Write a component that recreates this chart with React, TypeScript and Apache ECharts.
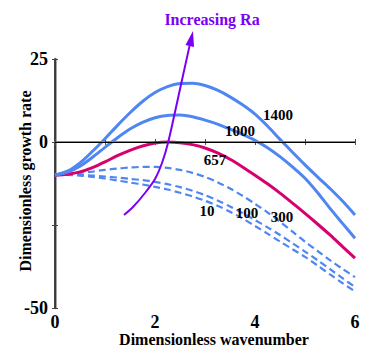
import React, { useEffect, useRef } from "react";
import * as echarts from "echarts";

const xs = [0, 0.25, 0.5, 0.75, 1, 1.25, 1.5, 1.75, 2, 2.25, 2.5, 2.75, 3, 3.25, 3.5, 3.75, 4, 4.25, 4.5, 4.75, 5, 5.25, 5.5, 5.75, 6];
const ra1400 = [-10, -8.8, -6.3, -2.8, 1.0, 5, 8.8, 12.2, 14.9, 16.7, 17.6, 17.7, 17.0, 15.6, 13.6, 11.2, 8.4, 4.8, 0.8, -3.1, -6.9, -10.5, -14, -17.8, -22];
const ra1000 = [-10, -9.1, -7.3, -4.6, -1.6, 1.3, 3.9, 5.9, 7.3, 8.0, 8.1, 7.6, 6.6, 5.4, 3.9, 2.3, 0.5, -1.7, -4.4, -7.5, -10.9, -15.2, -20, -24.5, -29];
const ra657 = [-10, -9.7, -9, -7.7, -6, -4.1, -2.5, -1.2, -0.3, 0, -0.2, -0.8, -1.8, -3.3, -5.2, -7.5, -10, -12.6, -15.4, -18.4, -21.5, -24.7, -28, -31.5, -35];
const ra300 = [-9.8, -9.6, -9.3, -8.9, -8.4, -8, -7.7, -7.5, -7.5, -7.8, -8.4, -9.3, -10.5, -12.1, -14, -16.2, -18.6, -21.2, -24, -27, -30, -32.8, -35.6, -38.2, -40.7];
const ra100 = [-9.8, -9.8, -9.9, -10.1, -10.4, -10.7, -11.1, -11.5, -12, -12.7, -13.6, -14.7, -16, -17.6, -19.4, -21.4, -23.5, -25.7, -28, -30.5, -33, -35.6, -38.3, -41, -43.7];
const ra10 = [-9.8, -9.9, -10.1, -10.5, -11, -11.6, -12.2, -12.8, -13.5, -14.3, -15.3, -16.4, -17.7, -19.2, -21, -23, -25.3, -27.6, -30, -32.3, -34.6, -37.2, -39.9, -42.5, -45];

const xTickLabels = ["0", "2", "4", "6"];
const yTickLabels = ["25", "0", "-50"];

const BLUE = "#4f86f2";
const MAGENTA = "#d6006f";
const PURPLE = "#7a00f5";
const FONT = "'Liberation Serif', 'DejaVu Serif', serif";

const pairs = (ys: number[]) => xs.map((x, i) => [x, ys[i]]);

export default function App() {
  const ref = useRef<HTMLDivElement>(null);
  useEffect(() => {
    if (!ref.current) return;
    const chart = echarts.init(ref.current, undefined, { renderer: "svg" });
    const solid = (name: string, ys: number[], color: string) => ({
      name,
      type: "line",
      data: pairs(ys),
      smooth: 0.3,
      showSymbol: false,
      lineStyle: { color, width: 3 },
      z: 3,
    });
    const dashed = (name: string, ys: number[]) => ({
      name,
      type: "line",
      data: pairs(ys),
      smooth: 0.3,
      showSymbol: false,
      lineStyle: { color: BLUE, width: 2.2, type: [7, 4] },
      z: 2,
    });
    const labelText = (text: string, x: number, y: number, size = 15, color = "#000", rotation = 0) => ({
      type: "text",
      x,
      y,
      rotation,
      style: {
        text,
        fill: color,
        font: `bold ${size}px ${FONT}`,
        textAlign: "center",
        textVerticalAlign: "middle",
      },
      z: 10,
    });
    const option: any = {
      animation: false,
      grid: { left: 55, right: 17, top: 59, bottom: 52, outerBoundsMode: "none", containLabel: false },
      xAxis: [
        {
          type: "value",
          min: 0,
          max: 6,
          interval: 1,
          axisLine: { show: true, lineStyle: { color: "#222", width: 1.5 } },
          axisTick: { show: true, inside: true, length: 3, lineStyle: { color: "#444" } },
          axisLabel: {
            fontFamily: FONT,
            fontWeight: "bold",
            fontSize: 18,
            color: "#000",
            margin: 5,
            formatter: (v: number) => (xTickLabels.includes(String(v)) ? String(v) : ""),
          },
          splitLine: { show: false },
        },
        {
          type: "value",
          position: "top",
          min: 0,
          max: 6,
          interval: 1,
          axisLine: { show: true, lineStyle: { color: "#888", width: 2 } },
          axisTick: { show: true, inside: true, length: 3, lineStyle: { color: "#555" } },
          axisLabel: { show: false },
          splitLine: { show: false },
        },
      ],
      yAxis: [
        {
          type: "value",
          min: -50,
          max: 25,
          interval: 25,
          axisLine: { show: true, lineStyle: { color: "#888", width: 2.5 } },
          axisTick: { show: true, inside: true, length: 3, lineStyle: { color: "#444" } },
          axisLabel: {
            fontFamily: FONT,
            fontWeight: "bold",
            fontSize: 18,
            color: "#000",
            margin: 7,
            formatter: (v: number) => (yTickLabels.includes(String(v)) ? String(v) : ""),
          },
          splitLine: { show: false },
        },
        {
          type: "value",
          position: "right",
          min: -50,
          max: 25,
          interval: 25,
          axisLine: { show: true, lineStyle: { color: "#222", width: 1.5 } },
          axisTick: { show: true, inside: true, length: 3, lineStyle: { color: "#444" } },
          axisLabel: { show: false },
          splitLine: { show: false },
        },
      ],
      series: [
        {
          ...dashed("10", ra10),
          markLine: {
            silent: true,
            symbol: ["none", "none"],
            label: { show: false },
            lineStyle: { color: "#000", width: 1, type: "solid" },
            data: [{ yAxis: 0 }],
          },
        },
        dashed("100", ra100),
        dashed("300", ra300),
        solid("657", ra657, MAGENTA),
        solid("1000", ra1000, BLUE),
        solid("1400", ra1400, BLUE),
      ],
      graphic: [
        labelText("1400", 278, 115),
        labelText("1000", 240, 131),
        labelText("657", 215, 160),
        labelText("10", 207, 211),
        labelText("100", 247, 213),
        labelText("300", 282, 217),
        labelText("Dimensionless wavenumber", 214, 339, 16),
        labelText("Dimensionless growth rate", 25, 181, 16, "#000", Math.PI / 2),
        {
          type: "polyline",
          shape: {
            points: [
              [124, 215],
              [133, 207],
              [145, 193],
              [155, 179],
              [162, 163],
              [168, 143],
              [175, 112],
              [182, 80],
              [189.6, 45.6],
            ],
            smooth: 0.3,
          },
          style: { stroke: PURPLE, lineWidth: 2, fill: "none" },
          z: 11,
        },
        {
          type: "polygon",
          shape: { points: [[193, 31], [194, 47], [185.5, 45]] },
          style: { fill: PURPLE },
          z: 11,
        },
        labelText("Increasing Ra", 212, 19, 16, PURPLE),
      ],
    };
    chart.setOption(option);
    return () => chart.dispose();
  }, []);
  return (
    <div
      ref={ref}
      style={{ position: "absolute", left: 0, top: 0, width: 372, height: 360 }}
    />
  );
}
